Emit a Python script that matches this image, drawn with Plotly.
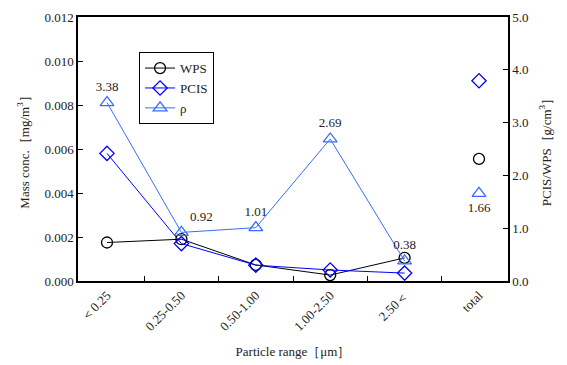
import plotly.graph_objects as go

categories = ["＜0.25", "0.25-0.50", "0.50-1.00", "1.00-2.50", "2.50＜", "total"]
size_cats = categories[:5]
wps = [0.00175, 0.0019, 0.00073, 0.00027, 0.00105]
pcis = [0.0058, 0.0017, 0.00072, 0.0005, 0.00036]
wps_total = 0.00555
pcis_total = 0.0091
rho = [3.38, 0.92, 1.01, 2.69, 0.38]
rho_total = 1.66
rho_labels = ["3.38", "0.92", "1.01", "2.69", "0.38"]
rho_label_pos = ["top center", "top right", "top center", "top center", "top center"]

FONT = "Liberation Serif, Times New Roman, serif"
C_WPS = "#000000"
C_PCIS = "#0000FF"
C_RHO = "#3A6BFF"

fig = go.Figure()
fig.add_trace(go.Scatter(x=size_cats, y=wps, name="WPS", mode="lines+markers",
                         line=dict(color=C_WPS, width=1),
                         marker=dict(symbol="circle-open", size=11, color=C_WPS, line=dict(width=1.3))))
fig.add_trace(go.Scatter(x=size_cats, y=pcis, name="PCIS", mode="lines+markers",
                         line=dict(color=C_PCIS, width=1),
                         marker=dict(symbol="diamond-open", size=11, color=C_PCIS, line=dict(width=1.3))))
fig.add_trace(go.Scatter(x=size_cats, y=rho, name="ρ", mode="lines+markers+text", yaxis="y2",
                         text=rho_labels, textposition=rho_label_pos,
                         textfont=dict(family=FONT, size=13, color="#222222"),
                         line=dict(color=C_RHO, width=1),
                         marker=dict(symbol="triangle-up-open", size=12, color=C_RHO, line=dict(width=1.3))))
# totals (not connected)
fig.add_trace(go.Scatter(x=[categories[5]], y=[wps_total], mode="markers", showlegend=False,
                         marker=dict(symbol="circle-open", size=11, color=C_WPS, line=dict(width=1.3))))
fig.add_trace(go.Scatter(x=[categories[5]], y=[pcis_total], mode="markers", showlegend=False,
                         marker=dict(symbol="diamond-open", size=11, color=C_PCIS, line=dict(width=1.3))))
fig.add_trace(go.Scatter(x=[categories[5]], y=[rho_total], mode="markers+text", yaxis="y2", showlegend=False,
                         text=["1.66"], textposition="bottom center",
                         textfont=dict(family=FONT, size=13, color="#222222"),
                         marker=dict(symbol="triangle-up-open", size=12, color=C_RHO, line=dict(width=1.3))))

fig.update_layout(
    width=567, height=365,
    margin=dict(l=78, r=59, t=17, b=84),
    paper_bgcolor="white", plot_bgcolor="white",
    font=dict(family=FONT, size=13, color="#222222"),
    showlegend=True,
    legend=dict(x=0.142, y=0.867, xanchor="left", yanchor="top",
                bordercolor="black", borderwidth=1, bgcolor="white",
                font=dict(family=FONT, size=13), tracegroupgap=0),
    xaxis=dict(type="category", categoryorder="array", categoryarray=categories,
               showline=True, linecolor="black", linewidth=1.5, mirror=True, automargin=False,
               ticks="inside", tickson="boundaries", ticklen=5, tickcolor="black",
               tickangle=-45, showgrid=False, tickfont=dict(family=FONT, size=13),
               title=dict(text="Particle range［μm］", font=dict(family=FONT, size=13), standoff=14)),
    yaxis=dict(range=[0, 0.012], dtick=0.002, tickformat=".3f", automargin=False,
               showline=True, linecolor="black", linewidth=1.5,
               ticks="inside", ticklen=5, tickcolor="black", showgrid=False, zeroline=False,
               tickfont=dict(family=FONT, size=13),
               title=dict(text="Mass conc.［mg/m<sup>3</sup>］", font=dict(family=FONT, size=13), standoff=12)),
    yaxis2=dict(range=[0, 5], dtick=1, tickformat=".1f", overlaying="y", side="right", automargin=False,
                showline=True, linecolor="black", linewidth=1.5,
                ticks="inside", ticklen=5, tickcolor="black", showgrid=False, zeroline=False,
                tickfont=dict(family=FONT, size=13),
                title=dict(text="PCIS/WPS［g/cm<sup>3</sup>］", font=dict(family=FONT, size=13), standoff=14)),
)

fig.write_html("out.html")
